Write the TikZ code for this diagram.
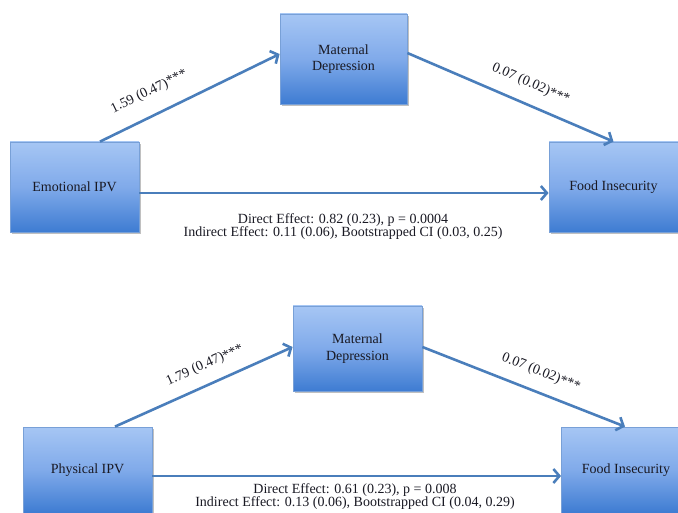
\documentclass[tikz,border=0pt]{standalone}
\usepackage{fontspec}
\setmainfont{Liberation Serif}
\usetikzlibrary{arrows.meta,shadows}
\definecolor{boxtop}{RGB}{166,198,244}
\definecolor{boxmid}{RGB}{128,170,234}
\definecolor{boxbot}{RGB}{62,124,210}
\definecolor{boxline}{RGB}{120,160,215}
\definecolor{arrowblue}{RGB}{74,126,187}
\definecolor{txt}{RGB}{25,25,35}
\tikzset{
  varbox/.style={rectangle, inner sep=0pt, draw=boxline, line width=0.8pt,
    top color=boxtop, bottom color=boxbot, middle color=boxmid,
    drop shadow={shadow xshift=1.5pt, shadow yshift=-2pt, fill=black!45, opacity=0.55},
    text=txt, align=center, font=\fontsize{14}{16.5}\selectfont},
  path/.style={draw=arrowblue, line width=2.6pt,
    -{Straight Barb[length=6pt, width=14pt]}},
  coef/.style={sloped, inner sep=0pt, text=txt, font=\fontsize{14}{16}\selectfont},
  effect/.style={inner sep=0pt, text=txt, align=center, font=\fontsize{14}{13}\selectfont}
}
\begin{document}
\begin{tikzpicture}[x=1pt, y=-1pt]
\useasboundingbox (0,0) rectangle (678,513);
\clip (0,0) rectangle (678,513);
% ---- top panel ----
\node[varbox, minimum width=127pt, minimum height=90pt] (M1) at (343.5,59) {Maternal\\Depression};
\node[varbox, minimum width=129pt, minimum height=90pt] (E1) at (74.5,187) {Emotional IPV};
\node[varbox, minimum width=129pt, minimum height=90pt] (F1) at (613.5,187) {Food Insecurity};
\draw[path] ([xshift=25.5pt]E1.north) -- ([yshift=5pt]M1.west)
  node[coef, pos=0.33, above=15.5pt] {1.59 (0.47)***};
\draw[path] ([yshift=6pt]M1.east) -- (F1.north)
  node[coef, pos=0.56, above=12.5pt] {0.07 (0.02)***};
\draw[path] ([yshift=-6pt]E1.east) -- ([yshift=-6pt]F1.west);
\node[effect] (D1) at (343,226.5) {Direct Effect: 0.82 (0.23), p = 0.0004\\Indirect Effect: 0.11 (0.06), Bootstrapped CI (0.03, 0.25)};
% ---- bottom panel ----
\node[varbox, minimum width=129pt, minimum height=85pt] (M2) at (357.5,348.5) {Maternal\\Depression};
\node[varbox, minimum width=129pt, minimum height=86pt] (P2) at (87.5,470) {Physical IPV};
\node[varbox, minimum width=129pt, minimum height=86pt] (F2) at (626,470) {Food Insecurity};
\draw[path] ([xshift=27.5pt]P2.north) -- ([yshift=1.5pt]M2.west)
  node[coef, pos=0.55, above=11.5pt] {1.79 (0.47)***};
\draw[path] ([yshift=1.5pt]M2.east) -- ([xshift=-1pt]F2.north)
  node[coef, pos=0.55, above=12pt] {0.07 (0.02)***};
\draw[path] ([yshift=-6pt]P2.east) -- ([yshift=-6pt]F2.west);
\node[effect] (D2) at (355,496.5) {Direct Effect: 0.61 (0.23), p = 0.008\\Indirect Effect: 0.13 (0.06), Bootstrapped CI (0.04, 0.29)};
\end{tikzpicture}
\end{document}
